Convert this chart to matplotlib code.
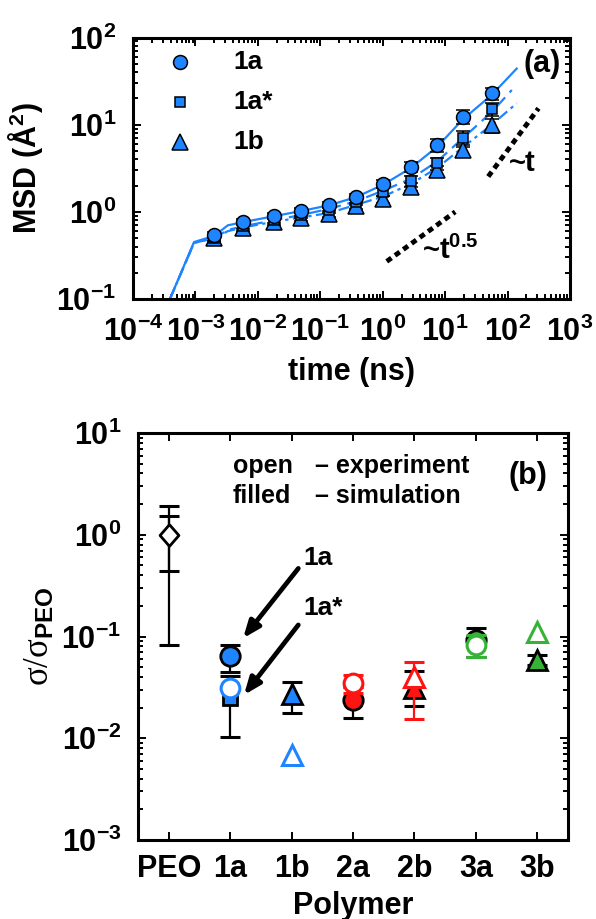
import numpy as np
import matplotlib
matplotlib.use('Agg')
import matplotlib.pyplot as plt
from matplotlib.ticker import LogLocator, NullFormatter, FixedLocator

plt.rcParams['font.family'] = ['Liberation Sans', 'DejaVu Sans']
plt.rcParams['font.weight'] = 'bold'
plt.rcParams['axes.labelweight'] = 'bold'
plt.rcParams['mathtext.fontset'] = 'custom'
plt.rcParams['mathtext.rm'] = 'Liberation Serif:normal'
plt.rcParams['mathtext.bf'] = 'Liberation Sans:bold'
plt.rcParams['mathtext.default'] = 'regular'

BLUE = '#1f84ff'
RED = '#ff1414'
GREEN = '#36b236'

# ---------------- panel (a) data ----------------
t_pts = [2.0e-3, 5.7e-3, 1.8e-2, 4.9e-2, 0.138, 0.37, 1.02, 2.85, 7.5, 19.2, 56]
msd_1a = [0.54, 0.77, 0.90, 1.03, 1.20, 1.49, 2.09, 3.3, 5.85, 12.4, 22.9]
err_1a = [0.04, 0.05, 0.06, 0.07, 0.09, 0.12, 0.2, 0.4, 0.95, 2.3, 3.5]
msd_1astar = [0.50, 0.68, 0.80, 0.91, 1.05, 1.30, 1.70, 2.25, 3.6, 7.0, 15.0]
err_1astar = [0.04, 0.05, 0.06, 0.07, 0.08, 0.11, 0.17, 0.3, 0.6, 1.5, 2.5]
msd_1b = [0.50, 0.65, 0.77, 0.84, 0.95, 1.18, 1.39, 1.95, 3.0, 5.1, 9.9]
err_1b = [0.04, 0.05, 0.06, 0.06, 0.07, 0.09, 0.13, 0.2, 0.4, 0.8, 1.8]

line_t_1a = [3.9e-4, 9.5e-4, 2.0e-3, 3.3e-3, 5.7e-3, 1.8e-2, 4.9e-2, 0.138, 0.37, 1.02, 2.85, 7.5, 19.2, 56, 140]
line_1a = [0.1, 0.45, 0.53, 0.70, 0.76, 0.89, 1.02, 1.19, 1.47, 2.05, 3.2, 5.6, 11.5, 22, 44]
line_t_1astar = [3.9e-4, 9.5e-4, 2.0e-3, 3.3e-3, 5.7e-3, 1.8e-2, 4.9e-2, 0.138, 0.37, 1.02, 2.85, 7.5, 19.2, 56, 117]
line_1astar = [0.1, 0.44, 0.50, 0.62, 0.68, 0.80, 0.92, 1.08, 1.32, 1.75, 2.4, 3.8, 7.0, 14, 25]
line_t_1b = [3.9e-4, 9.5e-4, 2.0e-3, 3.3e-3, 5.7e-3, 1.8e-2, 4.9e-2, 0.138, 0.37, 1.02, 2.85, 7.5, 19.2, 56, 140]
line_1b = [0.1, 0.44, 0.50, 0.60, 0.66, 0.77, 0.86, 0.97, 1.2, 1.5, 2.1, 3.2, 5.5, 10, 17.6]

guide_half_t = [1.16, 14.5]
guide_half_y = [0.27, 1.0]
guide_one_t = [49, 313]
guide_one_y = [2.54, 15.4]

# ---------------- panel (b) data ----------------
polymers = ['PEO', '1a', '1b', '2a', '2b', '3a', '3b']
exp_vals = [1.0, 0.031, 0.0068, 0.0347, 0.040, 0.083, 0.111]
exp_lo = [0.44, None, None, 0.028, 0.0155, 0.0635, None]
exp_hi = [1.54, None, None, 0.0418, 0.0557, 0.103, None]
exp_markers = ['D', 'o', '^', 'o', '^', 'o', '^']
exp_colors = ['black', BLUE, BLUE, RED, RED, GREEN, GREEN]

sim_names = ['PEO', '1a', '1a*', '1b', '2a', '2b', '3a', '3b']
sim_pos = ['PEO', '1a', '1a', '1b', '2a', '2b', '3a', '3b']
sim_vals = [1.0, 0.064, 0.025, 0.027, 0.0238, 0.031, 0.092, 0.0587]
sim_lo = [0.082, 0.045, 0.0104, 0.0178, 0.0157, 0.0209, 0.0634, 0.053]
sim_hi = [1.9, 0.083, 0.041, 0.0355, 0.032, 0.046, 0.121, 0.066]
sim_markers = [None, 'o', 's', '^', 'o', '^', 'o', '^']
sim_colors = [None, BLUE, BLUE, BLUE, RED, RED, GREEN, GREEN]

fig = plt.figure(figsize=(5.96, 9.19), dpi=100)

def style_axes(ax):
    for s in ax.spines.values():
        s.set_linewidth(2.2)
    ax.tick_params(which='both', direction='in', top=True, right=True, width=1.4)
    ax.tick_params(which='major', length=6)
    ax.tick_params(which='minor', length=3.5)
    ax.tick_params(axis='both', labelsize=22)

# ---------------- panel (a) ----------------
W, H = 596, 919
axa = fig.add_axes([133 / W, 1 - 299 / H, (570 - 133) / W, (299 - 37.5) / H])
axa.set_xscale('log')
axa.set_yscale('log')
axa.set_xlim(1e-4, 1e3)
axa.set_ylim(1e-1, 1e2)

axa.plot(line_t_1a, line_1a, '-', color=BLUE, lw=1.6, zorder=2)
axa.plot(line_t_1astar, line_1astar, '--', color=BLUE, lw=1.6, dashes=(6, 3), zorder=2)
axa.plot(line_t_1b, line_1b, '-.', color=BLUE, lw=1.6, dashes=(5, 2, 1.5, 2), zorder=2)

ebk = dict(ecolor='black', elinewidth=1.5, capsize=5, capthick=2.2, ls='none', zorder=3)
axa.errorbar(t_pts, msd_1b, yerr=err_1b, fmt='^', ms=11, mfc=BLUE, mec='black', mew=1.1, **ebk)
axa.errorbar(t_pts, msd_1astar, yerr=err_1astar, fmt='s', ms=7, mfc=BLUE, mec='black', mew=1.1, **ebk)
axa.errorbar(t_pts, msd_1a, yerr=err_1a, fmt='o', ms=10, mfc=BLUE, mec='black', mew=1.1, **ebk)

axa.plot(guide_half_t, guide_half_y, color='black', lw=3.5, ls=(0, (1.2, 0.9)), zorder=2)
axa.plot(guide_one_t, guide_one_y, color='black', lw=3.5, ls=(0, (1.2, 0.9)), zorder=2)
axa.text(12, 0.36, '~t' + r'$^{\mathdefault{0.5}}$', fontsize=21, ha='center', va='center')
axa.text(175, 3.6, '~t', fontsize=21, ha='center', va='center')
axa.text(0.936, 0.899, '(a)', transform=axa.transAxes, fontsize=22, ha='center', va='center')

# legend (a)
leg_y = [0.906, 0.755, 0.60]
axa.plot([0.107], [leg_y[0]], 'o', ms=10, mfc=BLUE, mec='black', mew=1.1, transform=axa.transAxes)
axa.plot([0.107], [leg_y[1]], 's', ms=7, mfc=BLUE, mec='black', mew=1.1, transform=axa.transAxes)
axa.plot([0.107], [leg_y[2]], '^', ms=11, mfc=BLUE, mec='black', mew=1.1, transform=axa.transAxes)
for lbl, yy in zip(['1a', '1a*', '1b'], leg_y):
    axa.text(0.229, yy, lbl, transform=axa.transAxes, fontsize=19, ha='left', va='center')

axa.xaxis.set_major_locator(LogLocator(base=10, numticks=20))
axa.xaxis.set_minor_locator(LogLocator(base=10, subs=np.arange(2, 10), numticks=20))
axa.xaxis.set_minor_formatter(NullFormatter())
axa.yaxis.set_major_locator(LogLocator(base=10, numticks=20))
axa.yaxis.set_minor_locator(LogLocator(base=10, subs=np.arange(2, 10), numticks=20))
axa.yaxis.set_minor_formatter(NullFormatter())
style_axes(axa)
axa.tick_params(axis='x', pad=13)
axa.tick_params(axis='y', pad=12)
axa.set_xlabel('time (ns)', fontsize=22, labelpad=6)
axa.set_ylabel('MSD (Å' + r'$^{\mathdefault{2}}$' + ')', fontsize=22, labelpad=8)

# ---------------- panel (b) ----------------
axb = fig.add_axes([138 / W, 1 - 840 / H, (568 - 138) / W, (840 - 433) / H])
axb.set_yscale('log')
axb.set_ylim(1e-3, 1e1)
xpos = {p: i + 1 for i, p in enumerate(polymers)}
axb.set_xlim(0.5, 7.5)

diamond = [(0, 1), (0.87, 0), (0, -1), (-0.87, 0), (0, 1)]
eb_common = dict(elinewidth=1.6, capsize=7.5, capthick=2.2, ls='none')

# simulation (filled)
for name, p, v, lo, hi, m, c in zip(sim_names, sim_pos, sim_vals, sim_lo, sim_hi, sim_markers, sim_colors):
    x = xpos[p]
    axb.errorbar([x], [v], yerr=[[v - lo], [hi - v]], fmt='none', ecolor='black', zorder=3, **eb_common)
    if m is not None:
        ms = 14 if m == 'o' else (10 if m == 's' else 15)
        axb.plot([x], [v], m, ms=ms, mfc=c, mec='black', mew=2, zorder=4)

# experiment (open)
for p, v, lo, hi, m, c in zip(polymers, exp_vals, exp_lo, exp_hi, exp_markers, exp_colors):
    x = xpos[p]
    if lo is not None:
        axb.errorbar([x], [v], yerr=[[v - lo], [hi - v]], fmt='none', ecolor=c, zorder=5, **eb_common)
    if m == 'D':
        axb.plot([x], [v], marker=diamond, ms=15.6, mfc='white', mec='black', mew=2, ls='none', zorder=6)
    else:
        ms = 13.5 if m == 'o' else 15
        axb.plot([x], [v], m, ms=ms, mfc='white', mec=c, mew=2.2, zorder=6)

# annotations
arrow_kw = dict(arrowstyle='-|>,head_length=1.0,head_width=0.4', lw=3.4, color='black',
                shrinkA=0, shrinkB=0)
axb.annotate('', xy=(2.21, 0.096), xytext=(3.11, 0.467), arrowprops=arrow_kw)
axb.annotate('', xy=(2.225, 0.0266), xytext=(3.11, 0.13), arrowprops=arrow_kw)
axb.text(3.19, 0.59, '1a', fontsize=19, ha='left', va='center')
axb.text(3.19, 0.19, '1a*', fontsize=19, ha='left', va='center')

axb.text(0.221, 0.902, 'open', transform=axb.transAxes, fontsize=18, ha='left', va='baseline')
axb.text(0.412, 0.902, '– experiment', transform=axb.transAxes, fontsize=18, ha='left', va='baseline')
axb.text(0.221, 0.828, 'filled', transform=axb.transAxes, fontsize=18, ha='left', va='baseline')
axb.text(0.412, 0.828, '– simulation', transform=axb.transAxes, fontsize=18, ha='left', va='baseline')
axb.text(0.906, 0.894, '(b)', transform=axb.transAxes, fontsize=22, ha='center', va='center')

axb.xaxis.set_major_locator(FixedLocator([xpos[p] for p in polymers]))
axb.set_xticklabels(polymers)
axb.yaxis.set_major_locator(LogLocator(base=10, numticks=20))
axb.yaxis.set_minor_locator(LogLocator(base=10, subs=np.arange(2, 10), numticks=20))
axb.yaxis.set_minor_formatter(NullFormatter())
style_axes(axb)
axb.tick_params(axis='x', which='minor', top=False, bottom=False)
axb.tick_params(axis='x', pad=10)
axb.tick_params(axis='y', pad=12)
axb.set_xlabel('Polymer', fontsize=22, labelpad=5)
axb.set_ylabel(r'$\mathrm{\sigma/\sigma}_{\mathbf{PEO}}$', fontsize=25, labelpad=4)

fig.savefig('out.png', dpi=100)
